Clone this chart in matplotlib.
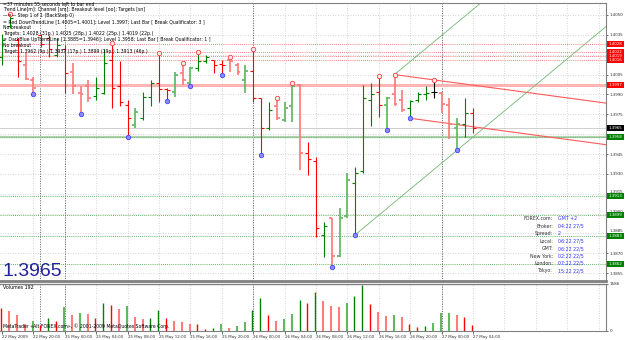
import matplotlib
matplotlib.use("Agg")
import matplotlib.pyplot as plt
from matplotlib.patches import Rectangle

# EURUSD H1 bars, 22 May 2009 16:00 .. 27 May 2009 04:00
opens = [1.4018, 1.4042, 1.4031, 1.4012, 1.4001, 1.4035, 1.4033, 1.4020, 1.4024, 1.4007,
         1.3991, 1.3996, 1.3989, 1.3991, 1.4016, 1.3996, 1.3982, 1.3967, 1.3972, 1.3988,
         1.3999, 1.3994, 1.3992, 1.4006, 1.3999, 1.4010, 1.4015, 1.4016, 1.4013, 1.4016,
         1.4012, 1.4001, 1.4008, 1.3987, 1.3965, 1.3981, 1.3971, 1.3981, 1.3997, 1.3946,
         1.3940, 1.3884, 1.3897, 1.3868, 1.3898, 1.3923, 1.3932, 1.3986, 1.3992, 1.3982,
         1.3990, 1.3986, 1.3980, 1.3986, 1.3990, 1.3992, 1.3991, 1.3982, 1.3965, 1.3968,
         1.3976]
highs = [1.4036, 1.4051, 1.4033, 1.4021, 1.4003, 1.4036, 1.4035, 1.4033, 1.4027, 1.4014,
         1.3996, 1.4001, 1.4003, 1.4024, 1.4029, 1.4015, 1.3986, 1.3980, 1.3992, 1.4001,
         1.4021, 1.3995, 1.4007, 1.4014, 1.4011, 1.4022, 1.4020, 1.4016, 1.4016, 1.4018,
         1.4014, 1.4012, 1.4024, 1.3987, 1.3984, 1.3987, 1.3984, 1.3999, 1.3998, 1.3954,
         1.3943, 1.3894, 1.3897, 1.3904, 1.3931, 1.3935, 1.3997, 1.3999, 1.4004, 1.3988,
         1.4005, 1.3993, 1.3986, 1.3992, 1.3996, 1.4001, 1.3992, 1.3987, 1.3972, 1.3987,
         1.3980]
lows = [1.4012, 1.4040, 1.4003, 1.4001, 1.3990, 1.4026, 1.4018, 1.4018, 1.3991, 1.3990,
        1.3975, 1.3984, 1.3986, 1.3990, 1.3980, 1.3981, 1.3958, 1.3965, 1.3971, 1.3981,
        1.3984, 1.3985, 1.3988, 1.3997, 1.3996, 1.4008, 1.4014, 1.4006, 1.4005, 1.4007,
        1.4005, 1.3991, 1.3984, 1.3944, 1.3963, 1.3971, 1.3969, 1.3969, 1.3933, 1.3929,
        1.3882, 1.3867, 1.3860, 1.3867, 1.3897, 1.3884, 1.3931, 1.3966, 1.3973, 1.3963,
        1.3981, 1.3977, 1.3972, 1.3984, 1.3986, 1.3987, 1.3976, 1.3956, 1.3948, 1.3958,
        1.3961]
closes = [1.4031, 1.4048, 1.4015, 1.4002, 1.3995, 1.4028, 1.4024, 1.4027, 1.4006, 1.3996,
          1.3990, 1.3987, 1.3995, 1.4014, 1.3995, 1.3984, 1.3972, 1.3977, 1.3988, 1.3999,
          1.3994, 1.3993, 1.4005, 1.4001, 1.4010, 1.4015, 1.4018, 1.4012, 1.4012, 1.4015,
          1.4007, 1.4008, 1.3987, 1.3965, 1.3978, 1.3972, 1.3980, 1.3996, 1.3946, 1.3941,
          1.3889, 1.3891, 1.3868, 1.3897, 1.3925, 1.3931, 1.3987, 1.3990, 1.3982, 1.3987,
          1.3983, 1.3978, 1.3985, 1.3990, 1.3991, 1.3992, 1.3983, 1.3968, 1.3968, 1.3976,
          1.3965]
bar_kind = ("g g r p p r r g r p p p g g r r r lg g g r r lg p lg g g r r p p lg r r g p "
            "lg lg p r r g p lg lg g g g r lg p p g g g k p p lg g r").split()

volumes = [757, 668, 534, 234, 334, 200, 445, 334, 812, 534, 612, 568, 423, 946, 868, 723,
           846, 479, 401, 423, 712, 445, 334, 312, 223, 223, 67, 111, 223, 111, 178, 312,
           701, 1091, 534, 345, 390, 557, 1035, 946, 1302, 1013, 835, 790, 946, 1169, 1536,
           902, 646, 512, 534, 456, 223, 145, 178, 278, 590, 590, 534, 456, 192]
vol_kind = ("r p p p lg r g r lg p lg p r g r p lg p p g g r p p p r r g lg p lg lg g g r p "
            "lg lg g r g p p p lg g g r p p lg p r r g lg lg lg p r r").split()

up_fractals = [1, 14, 20, 23, 25, 29, 32, 35, 37, 48, 50, 55]
down_fractals = [4, 10, 16, 21, 24, 28, 33, 42, 45, 49, 52, 58]

date_labels = ["22 May 2009", "22 May 20:00", "25 May 00:00", "25 May 04:00", "25 May 08:00",
               "25 May 12:00", "25 May 16:00", "25 May 20:00", "26 May 00:00", "26 May 04:00",
               "26 May 08:00", "26 May 12:00", "26 May 16:00", "26 May 20:00", "27 May 00:00",
               "27 May 04:00"]
price_ticks = [1.4050, 1.4035, 1.4020, 1.4005, 1.3990, 1.3975, 1.3960, 1.3945, 1.3930,
               1.3915, 1.3900, 1.3885, 1.3870, 1.3855]
hidden_ticks = [1.4020, 1.3960]
raised_ticks = [1.3915, 1.3900, 1.3885]
red_targets = [1.4028, 1.4022, 1.4019, 1.4016]
green_targets = [1.3913, 1.3899, 1.3883, 1.3862]
down_level = 1.3997
up_level = 1.3958
last_price = 1.3965

info_labels = ["FOREX.com:", "Broker:", "Spread:", "Local:", "GMT:", "New York:", "London:", "Tokyo:"]
info_values = ["GMT +2", "04:22 27/5", "2", "06:22 27/5", "06:22 22/5", "02:22 22/5",
               "07:22 22/5", "15:22 22/5"]

header = [
    "=37 minutes 55 seconds left to bar end",
    "Trend Line[m]: Channel [sm]; Breakout level [oo]; Targets [sn]",
    "\u2014=\u2014 Step 1 of 1 (BackStep 0)",
    "= Red DownTrendLine [1.4005=1.4001]; Level 1.3997; Last Bar [ Break Qualificator: 3 ]",
    "No breakout",
    "Targets: 1.4028 (31p.) 1.4025 (28p.) 1.4022 (25p.) 1.4019 (22p.)",
    "= DarkBlue UpTrendLine [1.3885=1.3946]; Level 1.3958; Last Bar [ Break Qualificator: 1 ]",
    "No breakout",
    "Target: 1.3962 (9p.) 1.3937 (17p.) 1.3899 (19p.) 1.3913 (46p.)",
]

colors = {"g": "#008000", "lg": "#62b862", "r": "#ff0000", "p": "#ff7c7c", "k": "#000000"}
W, H = 625, 340

def fx(x):
    return x / W

def fy(y):
    return 1 - y / H

fig = plt.figure(figsize=(6.25, 3.4), dpi=100)
fig.patch.set_facecolor("white")
ax = fig.add_axes([0, fy(281), fx(606), (281 - 2.5) / H])
vax = fig.add_axes([0, fy(331), fx(606), (331 - 283.5) / H])

xmax = 76.94
ax.set_xlim(-0.255, xmax)
ax.set_ylim(1.384909, 1.405944)
vax.set_xlim(-0.255, xmax)
vax.set_ylim(0, 1586)

grid_x = list(range(4, 77, 4))
for a in (ax, vax):
    for gx in grid_x:
        a.axvline(gx, color="#c8c8c8", lw=0.6, ls=(0, (1, 2)), zorder=0)
    for sx in (4.85, 8, 32, 56):
        a.axvline(sx, color="#606070", lw=0.7, ls=(0, (1, 1.5)), zorder=1)
for p in price_ticks:
    ax.axhline(p, color="#c8c8c8", lw=0.6, ls=(0, (1, 2)), zorder=0)

# levels
ax.axhline(down_level, color="#ffb4b4", lw=2.2, zorder=1)
ax.axhline(up_level, color="#b0d4b0", lw=1.6, zorder=1)
ax.axhline(up_level, color="#40a040", lw=0.5, ls=(0, (1, 1.5)), zorder=1)
ax.axhline(last_price, color="#c8c8c8", lw=0.6, zorder=1)
for p in red_targets:
    ax.axhline(p, color="#ff5050", lw=0.6, ls=(0, (1, 1.5)), zorder=1)
for p in green_targets:
    ax.axhline(p, color="#30a030", lw=0.6, ls=(0, (1, 1.5)), zorder=1)

# OHLC bars
n = len(opens)
for i in range(n):
    c = colors[bar_kind[i]]
    lw = 1.25 if bar_kind[i] in ("lg", "p") else 0.8
    ax.plot([i, i], [lows[i], highs[i]], color=c, lw=lw, solid_capstyle="butt", zorder=3)
    ax.plot([i - 0.38, i], [opens[i], opens[i]], color=c, lw=lw, solid_capstyle="butt", zorder=3)
    ax.plot([i, i + 0.38], [closes[i], closes[i]], color=c, lw=lw, solid_capstyle="butt", zorder=3)

ax.plot(up_fractals, [highs[i] for i in up_fractals], "o", ms=3.2, mfc="#ffe8e8",
        mec="#ff4040", mew=0.6, zorder=4)
ax.plot(down_fractals, [lows[i] for i in down_fractals], "o", ms=3.2, mfc="#8c8cff",
        mec="#4444ff", mew=0.6, zorder=4)

# channel lines
s_red = (highs[55] - highs[50]) / 5
ax.plot([50, xmax], [highs[50], highs[50] + s_red * (xmax - 50)], color="#ff5a5a", lw=0.8, zorder=2)
ax.plot([52, xmax], [lows[52], lows[52] + s_red * (xmax - 52)], color="#ff5a5a", lw=0.8, zorder=2)
s_grn = (lows[58] - lows[45]) / 13
ax.plot([45, xmax], [lows[45], lows[45] + s_grn * (xmax - 45)], color="#70b870", lw=0.6, zorder=2)
ax.plot([50, xmax], [highs[50], highs[50] + s_grn * (xmax - 50)], color="#70b870", lw=0.6, zorder=2)

# volume bars
for i in range(n):
    c = colors[vol_kind[i]]
    lw = 1.5 if vol_kind[i] in ("lg", "p") else 1.0
    vax.plot([i - 0.1, i - 0.1], [0, volumes[i]], color=c, lw=lw, solid_capstyle="butt")

# axes styling
for a in (ax, vax):
    a.set_facecolor("white")
    a.spines["left"].set_visible(False)
    for side in ("top", "right", "bottom"):
        a.spines[side].set_color("#808080")
        a.spines[side].set_linewidth(0.8)
ax.spines["bottom"].set_linewidth(2.0)
vax.spines["top"].set_linewidth(1.0)

ax.set_xticks([])
ax.yaxis.tick_right()
ax.set_yticks(price_ticks)
ax.set_yticklabels(["" if p in hidden_ticks else "%.4f" % p for p in price_ticks])
ax.tick_params(axis="y", labelsize=2.9, length=1.5, pad=1.0, colors="#303030", width=0.5)
for p, lab in zip(price_ticks, ax.get_yticklabels()):
    if p in raised_ticks:
        lab.set_verticalalignment("bottom")

vax.yaxis.tick_right()
vax.set_yticks([0, 1586])
vax.set_yticklabels(["0", "1586"])
vax.tick_params(axis="y", labelsize=3.0, length=1.5, pad=1.0, colors="#303030", width=0.5)
vax.set_xticks(list(range(0, 61, 4)))
vax.set_xticklabels(date_labels, ha="left")
vax.tick_params(axis="x", labelsize=2.9, length=2, pad=1, colors="#303030", width=0.5)

# price boxes on the right scale
bh = 6.0 / 13240
tr = ax.get_yaxis_transform()
boxes = [(p, "#ff0000", "%.4f" % p) for p in red_targets]
boxes += [(down_level, "#ff0000", "%.4f" % down_level), (last_price, "#000000", "%.4f" % last_price),
          (up_level, "#008000", "%.4f" % up_level)]
boxes += [(p, "#008000", "%.4f" % p) for p in green_targets]
for p, c, t in boxes:
    ax.add_patch(Rectangle((1.002, p - bh / 2), 0.028, bh, transform=tr, clip_on=False,
                           facecolor=c, edgecolor="none", zorder=10))
    ax.text(1.016, p, t, transform=tr, clip_on=False, color="white", fontsize=2.9,
            ha="center", va="center", zorder=11)

# header text
for k, line in enumerate(header):
    fig.text(fx(3), fy(4 + k * 5.9), line, fontsize=3.3, color="#000000", va="center", ha="left")

fig.text(fx(3), fy(271), "1.3965", fontsize=14, color="#22229a", va="center", ha="left",
         family="Liberation Sans")

for k, (lab, val) in enumerate(zip(info_labels, info_values)):
    yy = fy(219 + k * 7.4)
    fig.text(fx(553), yy, lab, fontsize=3.4, color="#303030", ha="right", va="center")
    fig.text(fx(558), yy, val, fontsize=3.4, color="#3030ff", ha="left", va="center")

fig.text(fx(3), fy(287.5), "Volumes 192", fontsize=3.4, color="#000000", va="center")
fig.text(fx(3), fy(326), "MetaTrader \u00abAlt FOREX.com\u00bb, \u00a9 2001-2009 MetaQuotes Software Corp.",
         fontsize=3.3, color="#000000", va="center")

fig.savefig("out.png", dpi=100, facecolor="white")
